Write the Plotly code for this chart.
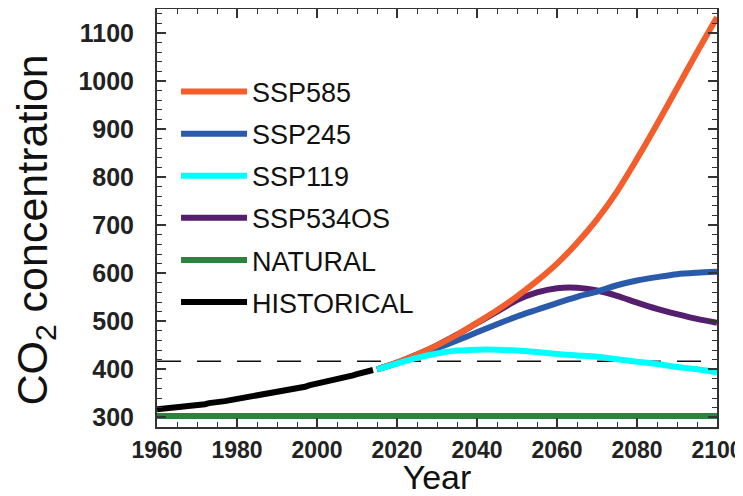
import plotly.graph_objects as go

# ---------------- data ----------------
hist_years = list(range(1960, 2015))
hist_co2 = [316.9, 317.6, 318.5, 319.0, 319.6, 320.0, 321.4, 322.2, 323.0, 324.6,
            325.7, 326.3, 327.5, 329.7, 330.2, 331.1, 332.0, 333.8, 335.4, 336.8,
            338.7, 340.1, 341.4, 343.0, 344.6, 346.0, 347.4, 349.2, 351.6, 353.1,
            354.4, 355.6, 356.5, 357.1, 358.8, 360.8, 362.6, 363.7, 366.7, 368.4,
            369.7, 371.3, 373.5, 375.8, 377.5, 379.8, 381.9, 383.8, 385.6, 387.4,
            389.9, 391.7, 393.9, 396.5, 398.6]

scen_years = [2015, 2020, 2025, 2030, 2035, 2040, 2045, 2050, 2055, 2060,
              2065, 2070, 2075, 2080, 2085, 2090, 2095, 2100]
ssp585 = [400, 414, 431, 450, 472, 497, 523, 552, 584, 620,
          663, 712, 770, 838, 910, 985, 1060, 1133]
ssp245 = [400, 413, 429, 444, 460, 477, 494, 510, 524, 538,
          551, 562, 575, 585, 592, 598, 601, 603]
ssp119 = [400, 412, 424, 433, 439, 441, 441, 439, 436, 432,
          429, 426, 421, 416, 411, 405, 400, 394]
ssp534os = [400, 414, 431, 450, 472, 496, 520, 544, 560, 569,
            570, 564, 553, 539, 526, 515, 505, 497]

natural_years = [1960, 2100]
natural_co2 = [303, 303]

ref_years = [1960, 2100]
ref_co2 = [417, 417]

x_ticks = [1960, 1980, 2000, 2020, 2040, 2060, 2080, 2100]
y_ticks = [300, 400, 500, 600, 700, 800, 900, 1000, 1100]

# ---------------- styles ----------------
C_585 = "#F25F2D"
C_245 = "#2A5BAA"
C_119 = "#00FFFF"
C_534 = "#551E6E"
C_NAT = "#2E823E"
C_HIS = "#000000"
LW = 6
FONT = "Liberation Sans, Arial, Helvetica, sans-serif"

fig = go.Figure()

fig.add_trace(go.Scatter(x=ref_years, y=ref_co2, mode="lines",
                         line=dict(color="#111111", width=1.5, dash="24px,16px"),
                         showlegend=False, hoverinfo="skip"))
fig.add_trace(go.Scatter(x=natural_years, y=natural_co2, mode="lines", name="NATURAL",
                         line=dict(color=C_NAT, width=LW), legendrank=5, legendgroup="nat"))
fig.add_trace(go.Scatter(x=hist_years, y=hist_co2, mode="lines", name="HISTORICAL",
                         line=dict(color=C_HIS, width=LW), legendrank=6, legendgroup="his"))
fig.add_trace(go.Scatter(x=scen_years, y=ssp534os, mode="lines", name="SSP534OS",
                         line=dict(color=C_534, width=LW, shape="spline", smoothing=0.8),
                         legendrank=4, legendgroup="534"))
fig.add_trace(go.Scatter(x=scen_years, y=ssp245, mode="lines", name="SSP245",
                         line=dict(color=C_245, width=LW, shape="spline", smoothing=0.8),
                         legendrank=2, legendgroup="245"))
fig.add_trace(go.Scatter(x=scen_years, y=ssp585, mode="lines", name="SSP585",
                         line=dict(color=C_585, width=LW, shape="spline", smoothing=0.8),
                         legendrank=1, legendgroup="585"))
fig.add_trace(go.Scatter(x=scen_years, y=ssp119, mode="lines", name="SSP119",
                         line=dict(color=C_119, width=LW, shape="spline", smoothing=0.8),
                         legendrank=3, legendgroup="119"))

axis_common = dict(
    showline=True, linecolor="#333333", linewidth=2, mirror="allticks",
    ticks="inside", ticklen=9, tickwidth=1.5, tickcolor="#333333",
    showgrid=False, zeroline=False, ticklabeloverflow="allow",
    minor=dict(ticks="inside", ticklen=5, tickwidth=1.2, tickcolor="#333333", showgrid=False),
)

fig.update_xaxes(range=[1960, 2100], tickvals=x_ticks, minor_dtick=5,
                 ticklabelstandoff=1,
                 tickfont=dict(family=FONT, size=23, color="#222222", weight="bold"),
                 title=dict(text="Year", font=dict(family=FONT, size=34, color="#111111"),
                            standoff=0),
                 **axis_common)
fig.update_yaxes(range=[280, 1150], tickvals=y_ticks, minor_dtick=20,
                 ticklabelstandoff=16,
                 tickfont=dict(family=FONT, size=25, color="#222222", weight="bold"),
                 title=dict(text="CO<sub>2</sub> concentration&nbsp;&nbsp;",
                            font=dict(family=FONT, size=43, color="#111111"),
                            standoff=25),
                 **axis_common)

fig.update_layout(
    width=735, height=488,
    margin=dict(l=149, r=26, t=1, b=69, autoexpand=False),
    paper_bgcolor="white", plot_bgcolor="white",
    showlegend=True,
    legend=dict(x=0.034, y=0.86, xanchor="left", yanchor="top",
                bgcolor="rgba(0,0,0,0)", borderwidth=0,
                font=dict(family=FONT, size=27, color="#111111"),
                tracegroupgap=4, itemwidth=66, traceorder="grouped"),
)

fig.write_html("out.html")
